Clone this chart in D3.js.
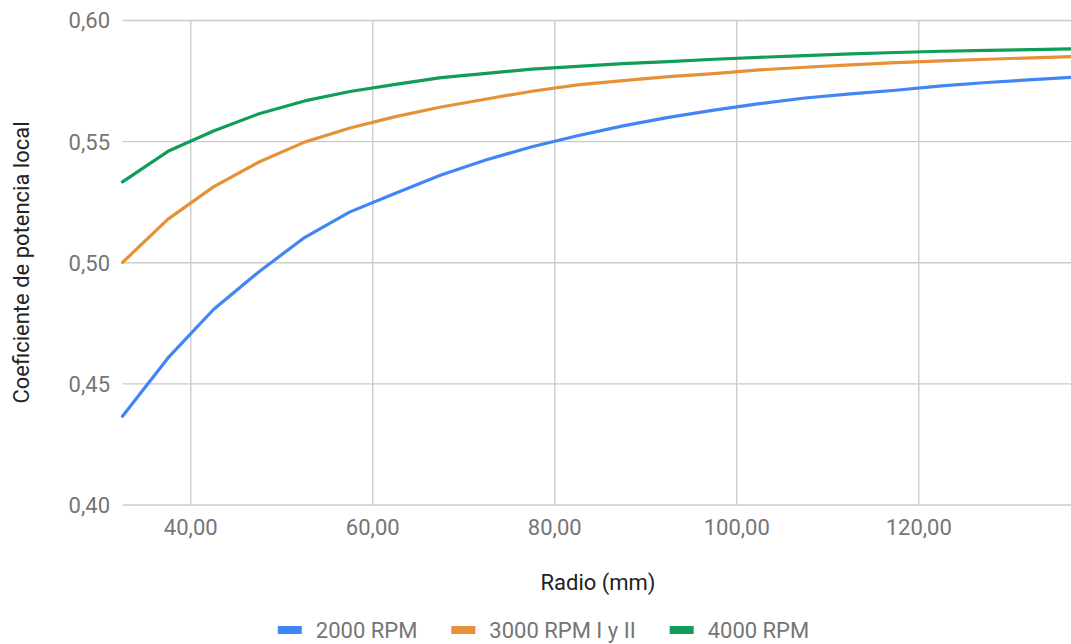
<!DOCTYPE html>
<html lang="es">
<head>
    <meta charset="UTF-8">
    <title>Coeficiente de potencia local vs Radio</title>
    <script src="https://d3js.org/d3.v7.min.js"></script>
    <style>
        body {
            margin: 0;
            background-color: #ffffff;
            overflow: hidden;
        }
        .chart {
            display: block;
            font-family: Roboto, "Noto Sans", sans-serif;
        }
        .grid line {
            stroke: #cccccc;
            stroke-width: 1.4;
        }
        .tick-label {
            fill: #757575;
            font-size: 22px;
        }
        .axis-title {
            fill: #222222;
            font-size: 22px;
        }
        .legend-label {
            fill: #757575;
            font-size: 22px;
        }
        .series {
            fill: none;
            stroke-width: 3.2;
            stroke-linejoin: round;
            stroke-linecap: round;
        }
    </style>
</head>
<body>
    <svg class="chart" width="1071" height="644"></svg>

    <script>
        // Radio (mm)
        const radius = [32.5, 37.5, 42.5, 47.5, 52.5, 57.5, 62.5, 67.5, 72.5, 77.5, 82.5,
                        87.5, 92.5, 97.5, 102.5, 107.5, 112.5, 117.5, 122.5, 127.5, 132.5, 137.5];

        const rpm2000 = [0.4366, 0.4607, 0.4807, 0.4963, 0.5104, 0.5210, 0.5287, 0.5362, 0.5425, 0.5479, 0.5524,
                         0.5565, 0.5600, 0.5630, 0.5657, 0.5680, 0.5697, 0.5712, 0.5730, 0.5744, 0.5756, 0.5767];

        const rpm3000 = [0.5001, 0.5180, 0.5313, 0.5416, 0.5498, 0.5556, 0.5603, 0.5643, 0.5676, 0.5708, 0.5734,
                         0.5752, 0.5768, 0.5781, 0.5796, 0.5807, 0.5817, 0.5826, 0.5833, 0.5840, 0.5846, 0.5852];

        const rpm4000 = [0.5334, 0.5460, 0.5544, 0.5615, 0.5668, 0.5707, 0.5736, 0.5764, 0.5782, 0.5799, 0.5811,
                         0.5822, 0.5830, 0.5840, 0.5848, 0.5855, 0.5862, 0.5868, 0.5873, 0.5877, 0.5880, 0.5883];

        const seriesNames = ["2000 RPM", "3000 RPM I y II", "4000 RPM"];
        const seriesColors = ["#4285F4", "#E69138", "#0F9D58"];

        const xTicks = [40, 60, 80, 100, 120];
        const yTicks = [0.40, 0.45, 0.50, 0.55, 0.60];

        const series = [rpm2000, rpm3000, rpm4000].map((vals, i) => ({
            name: seriesNames[i],
            color: seriesColors[i],
            points: vals.map((v, j) => ({ r: radius[j], v: v }))
        }));

        const svg = d3.select(".chart");

        const x = d3.scaleLinear().domain([32.5, 137.5]).range([122.5, 1078]);
        const y = d3.scaleLinear().domain([0.40, 0.60]).range([505, 20.5]);

        const comma = d => d.toFixed(2).replace(".", ",");

        // Gridlines
        const grid = svg.append("g").attr("class", "grid");
        grid.selectAll(".hgrid")
            .data(yTicks)
            .enter().append("line")
            .attr("x1", x.range()[0]).attr("x2", x.range()[1])
            .attr("y1", d => y(d)).attr("y2", d => y(d));
        grid.selectAll(".vgrid")
            .data(xTicks)
            .enter().append("line")
            .attr("x1", d => x(d)).attr("x2", d => x(d))
            .attr("y1", y.range()[1]).attr("y2", y.range()[0]);

        // Tick labels
        svg.selectAll(".ytick")
            .data(yTicks)
            .enter().append("text")
            .attr("class", "tick-label")
            .attr("x", 110)
            .attr("y", d => y(d))
            .attr("dy", "0.36em")
            .attr("text-anchor", "end")
            .text(comma);

        svg.selectAll(".xtick")
            .data(xTicks)
            .enter().append("text")
            .attr("class", "tick-label")
            .attr("x", d => x(d))
            .attr("y", 535)
            .attr("text-anchor", "middle")
            .text(comma);

        // Axis titles
        svg.append("text")
            .attr("class", "axis-title")
            .attr("x", 598)
            .attr("y", 590)
            .attr("text-anchor", "middle")
            .text("Radio (mm)");

        svg.append("text")
            .attr("class", "axis-title")
            .attr("transform", "translate(29,262.5) rotate(-90)")
            .attr("text-anchor", "middle")
            .text("Coeficiente de potencia local");

        // Lines
        const line = d3.line()
            .x(d => x(d.r))
            .y(d => y(d.v));

        svg.selectAll(".series")
            .data(series)
            .enter().append("path")
            .attr("class", "series")
            .attr("stroke", d => d.color)
            .attr("d", d => line(d.points));

        // Legend
        const legend = svg.append("g");
        const items = legend.selectAll(".item")
            .data(series)
            .enter().append("g");
        items.append("rect")
            .attr("width", 24).attr("height", 8)
            .attr("y", -4)
            .attr("fill", d => d.color);
        items.append("text")
            .attr("class", "legend-label")
            .attr("x", 38)
            .attr("y", 8)
            .text(d => d.name);

        let offset = 0;
        const widths = [];
        items.each(function () {
            const w = 38 + this.querySelector("text").getComputedTextLength();
            widths.push(w);
        });
        const gap = 34;
        const total = d3.sum(widths) + gap * (widths.length - 1);
        let start = 543.5 - total / 2;
        items.attr("transform", (d, i) => {
            const tx = start + offset;
            offset += widths[i] + gap;
            return `translate(${tx},630)`;
        });
    </script>
</body>
</html>
